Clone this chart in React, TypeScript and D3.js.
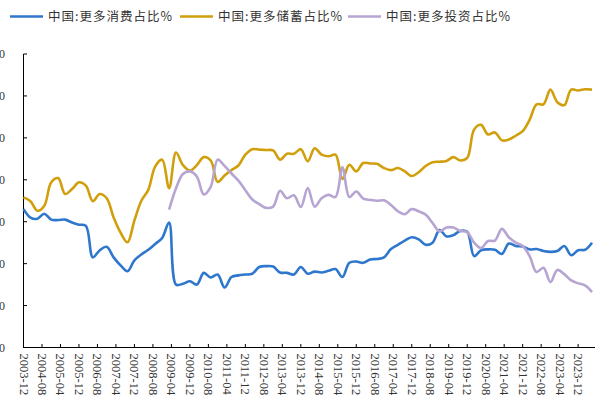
import React from "react";
import * as d3 from "d3";

// Quarterly observations, first = 2003-12, step = 3 months
const startLabel = "2003-12";
const consumption = [
  33.0, 31.0, 30.7, 31.9, 30.5, 30.4, 30.5, 29.8, 29.3, 29.0,
  21.5, 23.2, 24.0, 21.5, 19.6, 18.2, 20.8, 22.2, 23.3, 24.7,
  26.1, 29.8, 15.0, 15.2, 15.8, 15.0, 17.8, 16.7, 17.4, 14.3,
  16.8, 17.2, 17.4, 17.6, 19.2, 19.4, 19.3, 17.9, 17.8, 17.4,
  19.2, 17.6, 18.1, 17.9, 18.3, 18.7, 16.8, 20.2, 20.5, 20.2,
  21.0, 21.1, 21.5, 23.5, 24.5, 25.5, 26.3, 25.8, 24.5, 25.0,
  28.0, 26.5, 26.8, 27.8, 27.6, 21.8, 23.2, 23.4, 23.3, 22.3,
  24.8, 24.2, 24.1, 23.4, 23.5, 23.0, 22.8, 23.0, 24.2, 22.0,
  23.2, 23.3, 25.0,
];
const savings = [
  35.8, 34.9, 32.6, 33.8, 39.4, 40.4, 36.6, 37.8, 39.4, 38.6,
  34.9, 36.6, 35.6, 31.0, 27.4, 25.1, 30.3, 35.0, 37.6, 43.2,
  44.8, 38.0, 46.5, 43.5, 42.2, 43.5, 45.4, 44.6, 39.5, 41.0,
  42.3, 43.4, 46.0, 47.3, 47.2, 47.1, 47.0, 44.8, 46.2, 46.2,
  47.3, 44.4, 47.5, 46.0, 45.6, 46.0, 40.2, 43.6, 42.0, 44.0,
  43.9, 43.8, 42.8, 42.3, 42.8, 42.0, 40.9, 41.8, 43.3, 44.2,
  44.3, 44.5, 45.4, 44.6, 45.2, 52.0, 53.1, 50.8, 51.3, 49.4,
  49.6, 50.5, 51.6, 54.3, 58.0, 58.0, 61.5, 58.5, 57.8, 61.5,
  61.3, 61.6, 61.5,
];
// investment series begins at quarter index 21 (2009-03)
const investmentStart = 21;
const investment = [
  32.9, 38.0, 41.4, 42.0, 40.8, 36.5, 38.3, 44.8, 43.3, 41.5,
  39.8, 37.5, 35.3, 34.2, 33.3, 33.6, 37.4, 35.6, 36.3, 33.5,
  38.0, 33.6, 35.6, 36.4, 35.9, 43.0, 35.9, 37.2, 35.5, 35.2,
  35.0, 35.1, 34.0, 32.5, 31.8, 33.0, 32.5, 31.7, 29.7, 27.7,
  28.6, 28.6, 27.8, 27.5, 25.0, 23.7, 25.4, 25.5, 28.3, 26.3,
  25.0, 24.2, 21.8, 18.0, 19.0, 15.6, 18.5, 17.5, 16.0, 15.3,
  14.8, 13.2,
];
const xTickLabels = [
  "2003-12", "2004-08", "2005-04", "2005-12", "2006-08", "2007-04", "2007-12",
  "2008-08", "2009-04", "2009-12", "2010-08", "2011-04", "2011-12", "2012-08",
  "2013-04", "2013-12", "2014-08", "2015-04", "2015-12", "2016-08", "2017-04",
  "2017-12", "2018-08", "2019-04", "2019-12", "2020-08", "2021-04", "2021-12",
  "2022-08", "2023-04", "2023-12",
];
const yTicks = [0, 10, 20, 30, 40, 50, 60, 70];
const seriesNames = ["中国:更多消费占比%", "中国:更多储蓄占比%", "中国:更多投资占比%"];
const colors = ["#2f77cc", "#d19f0c", "#b6a5d3"];

function monthsFrom(label: string) {
  const [y0, m0] = startLabel.split("-").map(Number);
  const [y, m] = label.split("-").map(Number);
  return (y - y0) * 12 + (m - m0);
}

export default function App() {
  const W = 614, H = 403;
  const x0 = 23.5, x1 = 592, y0 = 347.5, y1 = 54;
  const x = d3.scaleLinear().domain([0, (savings.length - 1) * 3]).range([x0, x1]);
  const y = d3.scaleLinear().domain([0, 70]).range([y0, y1]);
  const line = d3
    .line<[number, number]>()
    .x((d) => x(d[0]))
    .y((d) => y(d[1]))
    .curve(d3.curveCatmullRom.alpha(0.5));
  const series: [number, number][][] = [
    consumption.map((v, i) => [i * 3, v]),
    savings.map((v, i) => [i * 3, v]),
    investment.map((v, i) => [(i + investmentStart) * 3, v]),
  ];
  const legendX = [10, 180, 348];
  return (
    <svg width={W} height={H} style={{ position: "absolute", left: 0, top: 0, background: "#fff" }}>
      {/* legend */}
      {seriesNames.map((n, i) => (
        <g key={n}>
          <line x1={legendX[i]} x2={legendX[i] + 33} y1={16.5} y2={16.5} stroke={colors[i]} strokeWidth={2.5} />
          <text
            x={legendX[i] + 38}
            y={21}
            fontSize={12.5}
            fontFamily="'Noto Sans CJK SC', sans-serif"
            fill="#333"
            textLength={124}
            lengthAdjust="spacing"
          >
            {n}
          </text>
        </g>
      ))}
      {/* y axis */}
      <line x1={x0} x2={x0} y1={y1} y2={y0} stroke="#000" strokeWidth={1} />
      {yTicks.map((t) => (
        <g key={t}>
          <line x1={x0} x2={x0 + 3.5} y1={y(t)} y2={y(t)} stroke="#000" />
          <text x={5} y={y(t) + 4} textAnchor="end" fontSize={12} fontFamily="'Liberation Serif', serif" fill="#333">
            {t.toFixed(1)}
          </text>
        </g>
      ))}
      {/* x axis */}
      <line x1={x0} x2={595} y1={y0} y2={y0} stroke="#000" strokeWidth={1} />
      {xTickLabels.map((l) => {
        const px = x(monthsFrom(l));
        return (
          <g key={l}>
            <line x1={px} x2={px} y1={y0} y2={y0 - 3.5} stroke="#000" />
            <text
              transform={`translate(${px - 4},${y0 + 6}) rotate(90)`}
              fontSize={12.5}
              fontFamily="'Liberation Serif', serif"
              fill="#333"
            >
              {l}
            </text>
          </g>
        );
      })}
      {/* lines */}
      {series.map((s, i) => (
        <path key={i} d={line(s) || ""} fill="none" stroke={colors[i]} strokeWidth={2.6} strokeLinejoin="round" />
      ))}
    </svg>
  );
}
